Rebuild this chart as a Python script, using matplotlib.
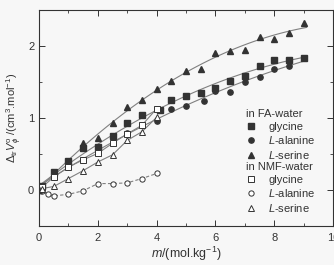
import numpy as np
import matplotlib
matplotlib.use("Agg")
import matplotlib.pyplot as plt
from matplotlib.ticker import MultipleLocator

# FA-water
fa_gly_x = [0, 0.1, 0.5, 1.0, 1.5, 2.0, 2.5, 3.0, 3.5, 4.1, 4.5, 5.0, 5.5, 6.0, 6.5, 7.0, 7.5, 8.0, 8.5, 9.0]
fa_gly_y = [0, 0.05, 0.25, 0.40, 0.58, 0.60, 0.75, 0.93, 1.04, 1.11, 1.25, 1.31, 1.35, 1.42, 1.51, 1.59, 1.72, 1.81, 1.81, 1.84]
fa_ala_x = [0, 0.1, 0.5, 1.0, 1.5, 2.0, 2.5, 3.0, 4.0, 4.5, 5.0, 5.6, 6.0, 6.5, 7.0, 7.5, 8.0, 8.5, 9.0]
fa_ala_y = [0, 0.04, 0.21, 0.39, 0.42, 0.55, 0.73, 0.79, 0.96, 1.12, 1.17, 1.24, 1.37, 1.36, 1.50, 1.57, 1.68, 1.73, 1.83]
fa_ser_x = [0, 0.1, 0.5, 1.0, 1.5, 2.0, 2.5, 3.0, 3.5, 4.0, 4.5, 5.0, 5.5, 6.0, 6.5, 7.0, 7.5, 8.0, 8.5, 9.0]
fa_ser_y = [0, 0.05, 0.24, 0.40, 0.66, 0.72, 0.93, 1.16, 1.25, 1.41, 1.51, 1.66, 1.68, 1.90, 1.93, 1.95, 2.13, 2.10, 2.18, 2.32]
# NMF-water
nmf_gly_x = [0, 0.1, 0.5, 1.0, 1.5, 2.0, 2.5, 3.0, 3.5, 4.0]
nmf_gly_y = [0, 0.04, 0.18, 0.32, 0.42, 0.51, 0.65, 0.78, 0.90, 1.13]
nmf_ala_x = [0, 0.1, 0.3, 0.5, 1.0, 1.5, 2.0, 2.5, 3.0, 3.5, 4.0]
nmf_ala_y = [0, -0.02, -0.06, -0.08, -0.06, -0.01, 0.09, 0.09, 0.10, 0.16, 0.23]
nmf_ser_x = [0, 0.1, 0.5, 1.0, 1.5, 2.0, 2.5, 3.0, 3.5, 4.0]
nmf_ser_y = [0, 0.02, 0.05, 0.16, 0.27, 0.39, 0.49, 0.69, 0.81, 1.01]

ink = "#333333"
linec = "#808080"
plt.rcParams['font.family'] = ['Liberation Sans', 'DejaVu Sans']
plt.rcParams['mathtext.fontset'] = 'custom'
plt.rcParams['mathtext.rm'] = 'Liberation Sans'
plt.rcParams['mathtext.it'] = 'Liberation Sans:italic'

fig = plt.figure(figsize=(3.34, 2.65), dpi=100)
fig.patch.set_facecolor("#f7f7f7")
ax = fig.add_axes([0.117, 0.147, 0.88, 0.815])
ax.set_facecolor("#f7f7f7")

ms = 3.8
# FA fitted curves
xx = np.linspace(0, 9.1, 100)
for x, y in [(fa_gly_x, fa_gly_y), (fa_ala_x, fa_ala_y), (fa_ser_x, fa_ser_y)]:
    p = np.polyfit(x, y, 2)
    ax.plot(xx, np.polyval(p, xx), color=linec, lw=0.8, zorder=1)
# NMF connecting lines
ax.plot(nmf_gly_x, nmf_gly_y, color=linec, lw=0.8, zorder=1)
ax.plot(nmf_ser_x, nmf_ser_y, color=linec, lw=0.8, zorder=1)
ax.plot(nmf_ala_x, nmf_ala_y, color=linec, lw=0.8, ls=(0, (3, 2)), zorder=1)

h1, = ax.plot(fa_gly_x, fa_gly_y, 's', color=ink, ms=ms, ls='none')
h2, = ax.plot(fa_ala_x, fa_ala_y, 'o', color=ink, ms=ms, ls='none')
h3, = ax.plot(fa_ser_x, fa_ser_y, '^', color=ink, ms=ms+0.5, ls='none')
h4, = ax.plot(nmf_gly_x, nmf_gly_y, 's', mfc='white', mec=ink, mew=0.7, ms=ms, ls='none')
h5, = ax.plot(nmf_ala_x, nmf_ala_y, 'o', mfc='white', mec=ink, mew=0.7, ms=ms, ls='none')
h6, = ax.plot(nmf_ser_x, nmf_ser_y, '^', mfc='white', mec=ink, mew=0.7, ms=ms+0.5, ls='none')

ax.set_xlim(0, 10)
ax.set_ylim(-0.5, 2.5)
ax.xaxis.set_major_locator(MultipleLocator(2))
ax.xaxis.set_minor_locator(MultipleLocator(1))
ax.yaxis.set_major_locator(MultipleLocator(1))
ax.yaxis.set_minor_locator(MultipleLocator(0.5))
ax.tick_params(which='both', direction='in', top=True, right=True, colors=ink, labelsize=8)
ax.tick_params(which='major', length=4, width=0.7)
ax.tick_params(which='minor', length=2, width=0.6)
for s in ax.spines.values():
    s.set_color(ink)
    s.set_linewidth(0.8)
ax.tick_params(axis='x', pad=5)

ax.set_xlabel(r'$m$/(mol.kg$^{-1}$)', fontsize=9, color=ink, labelpad=1)
ax.set_ylabel(r'$\Delta_{\rm tr}V_\phi^{\rm o}$ /(cm$^3$.mol$^{-1}$)', fontsize=8, color=ink, labelpad=3)

lkw = dict(frameon=False, fontsize=8, handlelength=1.0, handletextpad=1.0,
           labelspacing=0.22, borderpad=0.1, borderaxespad=0.0, alignment='left',
           title_fontsize=8, labelcolor=ink)
leg1 = ax.legend([h1, h2, h3], ['glycine', r'$L$-alanine', r'$L$-serine'],
                 title='in FA-water', loc='upper left', bbox_to_anchor=(0.70, 0.545), **lkw)
leg1.get_title().set_color(ink)
ax.add_artist(leg1)
leg2 = ax.legend([h4, h5, h6], ['glycine', r'$L$-alanine', r'$L$-serine'],
                 title='in NMF-water', loc='upper left', bbox_to_anchor=(0.70, 0.30), **lkw)
leg2.get_title().set_color(ink)

fig.savefig("out.png", dpi=100, facecolor=fig.get_facecolor())
